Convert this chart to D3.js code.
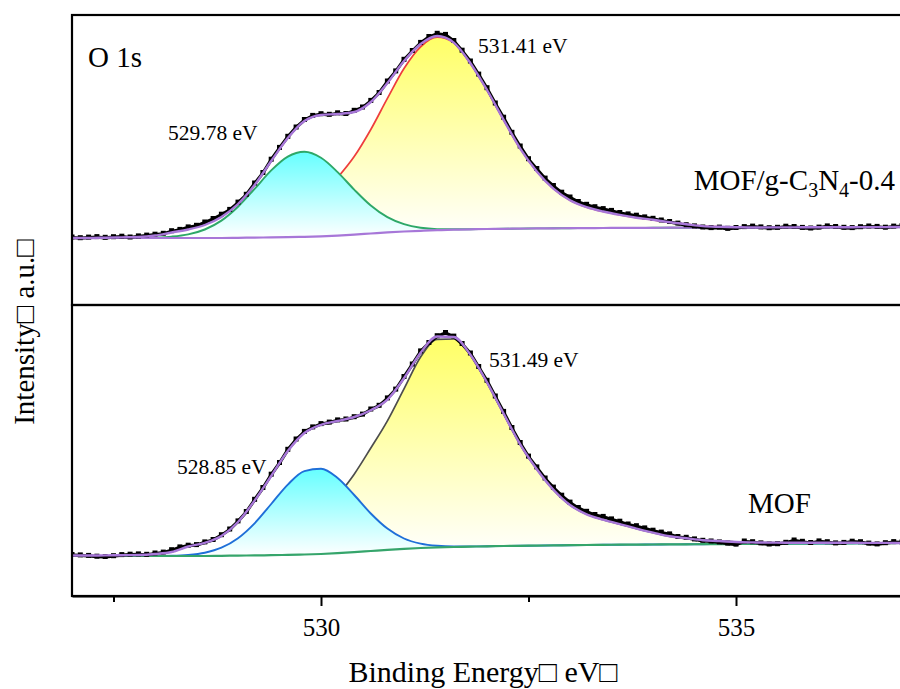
<!DOCTYPE html>
<html>
<head>
<meta charset="utf-8">
<script src="https://cdnjs.cloudflare.com/ajax/libs/d3/7.8.5/d3.min.js"></script>
<style>
  body { margin: 0; background: #fff; }
  svg { display: block; }
  text { font-family: "Liberation Serif", "Times New Roman", serif; fill: #000; }
</style>
</head>
<body>
<script>
// O 1s XPS spectra, two stacked panels (MOF/g-C3N4-0.4 on top, MOF below)

// energy grid of the fitted curves (eV)
var fitE = [527.0, 527.2, 527.4, 527.6, 527.8, 528.0, 528.2, 528.4, 528.6, 528.8,
            529.0, 529.2, 529.4, 529.6, 529.8, 530.0, 530.2, 530.4, 530.6, 530.8,
            531.0, 531.2, 531.4, 531.6, 531.8, 532.0, 532.2, 532.4, 532.6, 532.8,
            533.0, 533.2, 533.4, 533.6, 533.8, 534.0, 534.2, 534.4, 534.6, 534.8,
            535.0, 535.2, 535.4, 535.6, 535.8, 536.0, 536.2, 536.4, 536.6, 536.8, 537.0];

// energy grid of the measured points (eV)
var rawE = [527.0, 527.1, 527.2, 527.3, 527.4, 527.5, 527.6, 527.7, 527.8, 527.9,
            528.0, 528.1, 528.2, 528.3, 528.4, 528.5, 528.6, 528.7, 528.8, 528.9,
            529.0, 529.1, 529.2, 529.3, 529.4, 529.5, 529.6, 529.7, 529.8, 529.9,
            530.0, 530.1, 530.2, 530.3, 530.4, 530.5, 530.6, 530.7, 530.8, 530.9,
            531.0, 531.1, 531.2, 531.3, 531.4, 531.5, 531.6, 531.7, 531.8, 531.9,
            532.0, 532.1, 532.2, 532.3, 532.4, 532.5, 532.6, 532.7, 532.8, 532.9,
            533.0, 533.1, 533.2, 533.3, 533.4, 533.5, 533.6, 533.7, 533.8, 533.9,
            534.0, 534.1, 534.2, 534.3, 534.4, 534.5, 534.6, 534.7, 534.8, 534.9,
            535.0, 535.1, 535.2, 535.3, 535.4, 535.5, 535.6, 535.7, 535.8, 535.9,
            536.0, 536.1, 536.2, 536.3, 536.4, 536.5, 536.6, 536.7, 536.8, 536.9, 537.0];

// ---- top panel: MOF/g-C3N4-0.4 (intensity, a.u.) ----
var topBg = [67, 67, 67, 67, 67, 67, 67, 67, 67, 67,
             67.2, 67.4, 67.6, 67.8, 68.2, 68.7, 69.4, 70.4, 71.5, 72.6,
             73.5, 74.2, 74.8, 75.3, 75.7, 76.0, 76.2, 76.4, 76.6, 76.7,
             76.8, 76.9, 77.0, 77.1, 77.1, 77.2, 77.3, 77.3, 77.4, 77.4,
             77.5, 77.5, 77.6, 77.6, 77.7, 77.7, 77.8, 77.8, 77.9, 77.9, 78.0];
// peak heights above the background
var topPeak1 = [0, 0, 0, 0, 0.1, 0.5, 1.4, 3.6, 8.5, 17.4,
                31.1, 48.7, 67.0, 80.6, 85.0, 78.5, 63.5, 45.0, 28.0, 15.2,
                7.3, 3.0, 1.1, 0.4, 0.1, 0, 0, 0, 0, 0,
                0, 0, 0, 0, 0, 0, 0, 0, 0, 0,
                0, 0, 0, 0, 0, 0, 0, 0, 0, 0, 0];
var topPeak2 = [0, 0, 0, 0, 0, 0, 0.1, 0.2, 0.4, 1.0,
                2.2, 4.3, 8.0, 14, 24, 41, 58, 78, 104, 134,
                163, 184, 193, 187, 166, 139, 109, 80, 57, 39.7,
                28, 21, 16.5, 13, 10.2, 8, 5.5, 3.5, 1.5, 0.8,
                0.3, 0, 0, 0, 0, 0, 0, 0, 0, 0, 0];
var topEnv = [67, 67, 67.3, 67.6, 68, 69.5, 72.5, 75.5, 80, 88,
              101, 120, 144, 167, 184, 190, 191, 193, 203, 222,
              244, 261, 269, 262.4, 241.8, 215, 185.2, 156.4, 133.6, 116.4,
              104.8, 97.9, 93.5, 90.1, 87.3, 85.2, 82.8, 80.8, 78.9, 78.2,
              77.8, 77.5, 77.6, 77.6, 77.7, 77.7, 77.8, 77.8, 77.9, 77.9, 78.0];
var topRaw = [67.5, 66.8, 67.4, 67.9, 67.2, 67.8, 68.3, 67.5, 68.6, 69.4,
              70.3, 71.2, 73.8, 75.1, 77.6, 79.2, 82.5, 86.0, 90.3, 95.1,
              102.4, 110.2, 121.5, 132.0, 145.3, 157.1, 168.2, 177.5, 185.0, 189.1,
              190.8, 190.2, 191.7, 191.0, 194.2, 197.5, 204.1, 212.0, 223.5, 233.6,
              245.2, 254.0, 262.1, 268.0, 271.2, 270.1, 264.0, 254.3, 243.5, 230.4,
              216.8, 201.5, 187.3, 172.2, 158.5, 145.8, 136.0, 126.4, 119.0, 112.3,
              107.5, 103.0, 100.2, 97.8, 95.9, 94.1, 92.0, 90.6, 89.3, 87.6,
              86.2, 84.5, 83.0, 81.4, 79.8, 78.6, 77.5, 76.9, 77.4, 76.2,
              77.0, 77.9, 78.4, 77.6, 76.8, 77.2, 78.3, 78.0, 77.1, 76.5,
              77.4, 78.6, 78.0, 77.2, 76.9, 77.8, 78.5, 78.1, 77.3, 78.4, 78.8];

// ---- bottom panel: MOF ----
var botBg = [40, 40, 40, 40, 40, 40, 40, 40, 40, 40.2,
             40.4, 40.6, 40.8, 41.1, 41.5, 42, 42.8, 43.8, 45, 46.2,
             47.2, 48, 48.6, 49, 49.4, 49.7, 50, 50.2, 50.4, 50.6,
             50.8, 51, 51.2, 51.3, 51.4, 51.5, 51.6, 51.7, 51.8, 51.9,
             52.0, 52.1, 52.2, 52.3, 52.4, 52.5, 52.6, 52.7, 52.8, 52.9, 53.0];
var botPeak1 = [0, 0, 0, 0, 0, 0.1, 0.3, 1.1, 3.3, 8.1,
                17.4, 32.1, 51.2, 70.3, 83.4, 85.2, 75.2, 57.2, 37.5, 21.2,
                10.3, 4.4, 1.6, 0.5, 0.2, 0, 0, 0, 0, 0,
                0, 0, 0, 0, 0, 0, 0, 0, 0, 0,
                0, 0, 0, 0, 0, 0, 0, 0, 0, 0, 0];
var botPeak2 = [0, 0, 0, 0, 0, 0, 0, 0, 0.3, 0.7,
                1.6, 3.4, 6.7, 12.6, 22, 37, 57, 78, 103, 129,
                160, 191, 208, 208, 191.6, 163.9, 132.4, 101.4, 76.4, 55.6,
                40.2, 30.7, 25.1, 20.5, 16, 11.9, 8.1, 6, 4, 3.1,
                2, 1.5, 1.2, 1.0, 0.9, 0.7, 0.6, 0.5, 0.3, 0.2, 0];
var botEnv = [40.5, 40.5, 40.6, 40.8, 41, 42, 44, 49.5, 53.2, 60,
              74, 95.4, 120, 145, 163, 171.2, 175, 179, 185.8, 196.4,
              217.8, 243.3, 259.5, 259, 241.2, 213.6, 182.4, 151.6, 126.8, 106.2,
              91, 81.7, 76.3, 71.8, 67.4, 63.4, 59.7, 57.7, 55.8, 55,
              54, 53.6, 53.4, 53.3, 53.3, 53.2, 53.2, 53.2, 53.1, 53.1, 53.0];
var botRaw = [41.0, 40.6, 40.1, 39.3, 39.0, 39.8, 40.9, 41.3, 41.6, 41.2,
              42.5, 43.4, 45.8, 48.6, 50.3, 50.9, 53.6, 56.0, 60.8, 66.5,
              74.6, 84.0, 96.2, 108.0, 121.3, 133.0, 146.2, 156.5, 164.1, 168.6,
              171.9, 173.4, 175.6, 176.5, 178.8, 181.4, 186.5, 190.2, 197.6, 206.4,
              219.0, 231.5, 244.6, 253.0, 259.8, 263.0, 259.4, 252.0, 242.5, 229.0,
              215.2, 199.5, 184.1, 168.0, 153.0, 139.4, 128.6, 117.5, 108.4, 100.3,
              93.4, 88.0, 84.2, 81.0, 79.1, 76.6, 74.3, 71.5, 69.8, 67.6,
              65.3, 63.4, 61.6, 59.0, 58.2, 56.6, 55.2, 54.5, 53.6, 52.4,
              51.4, 54.5, 53.8, 52.6, 51.5, 51.8, 53.2, 55.5, 54.2, 53.0,
              54.6, 53.8, 52.6, 53.1, 54.3, 53.8, 52.4, 51.6, 52.8, 53.9, 53.5];

// tick values
var majorTicks = [530, 535];
var minorTicks = [527.5, 532.5];

var width = 900, height = 689;
var plotLeft = 72, plotRight = 902;

var svg = d3.select("body").append("svg")
    .attr("width", width)
    .attr("height", height);

var defs = svg.append("defs");

function vGrad(id, color) {
  var g = defs.append("linearGradient")
      .attr("id", id)
      .attr("x1", 0).attr("y1", 0)
      .attr("x2", 0).attr("y2", 1);
  g.append("stop").attr("offset", "0%").attr("stop-color", color);
  g.append("stop").attr("offset", "100%").attr("stop-color", "#ffffff");
}
vGrad("cyanFill", "#66ffff");
vGrad("yellowFill", "#ffff66");

var x = d3.scaleLinear().domain([527, 537]).range([plotLeft, plotRight]);

var panels = [
  {name: "top", top: 15, bottom: 305, bg: topBg, p1: topPeak1, p2: topPeak2, env: topEnv, raw: topRaw,
   c1: "#2ea868", c2: "#ee3d3d", cBg: "#a777d8"},
  {name: "bot", top: 305, bottom: 596, bg: botBg, p1: botPeak1, p2: botPeak2, env: botEnv, raw: botRaw,
   c1: "#1f6fd8", c2: "#4d4d4d", cBg: "#35a56b"}
];

var envColor = "#a777d8";

panels.forEach(function(p) {
  var y = d3.scaleLinear().domain([0, 290]).range([p.bottom, p.bottom - 290]);

  var rows = fitE.map(function(e, i) {
    return {e: e, bg: p.bg[i], p1: p.p1[i], p2: p.p2[i], env: p.env[i]};
  });
  var pts = rawE.map(function(e, i) { return {e: e, v: p.raw[i]}; });

  defs.append("clipPath").attr("id", "clip-" + p.name)
    .append("rect")
      .attr("x", plotLeft).attr("y", p.top)
      .attr("width", plotRight - plotLeft).attr("height", p.bottom - p.top);

  var g = svg.append("g").attr("clip-path", "url(#clip-" + p.name + ")");

  // peak 2 fill + line
  g.append("path").datum(rows)
    .attr("fill", "url(#yellowFill)")
    .attr("d", d3.area().curve(d3.curveMonotoneX)
      .x(function(d) { return x(d.e); })
      .y0(function(d) { return y(d.bg); })
      .y1(function(d) { return y(d.bg + d.p2); }));
  g.append("path").datum(rows)
    .attr("fill", "none").attr("stroke", p.c2).attr("stroke-width", 1.7)
    .attr("d", d3.line().curve(d3.curveMonotoneX)
      .x(function(d) { return x(d.e); })
      .y(function(d) { return y(d.bg + d.p2); }));

  // peak 1 fill + line
  g.append("path").datum(rows)
    .attr("fill", "url(#cyanFill)")
    .attr("d", d3.area().curve(d3.curveMonotoneX)
      .x(function(d) { return x(d.e); })
      .y0(function(d) { return y(d.bg); })
      .y1(function(d) { return y(d.bg + d.p1); }));
  g.append("path").datum(rows)
    .attr("fill", "none").attr("stroke", p.c1).attr("stroke-width", 1.9)
    .attr("d", d3.line().curve(d3.curveMonotoneX)
      .x(function(d) { return x(d.e); })
      .y(function(d) { return y(d.bg + d.p1); }));

  // background
  g.append("path").datum(rows)
    .attr("fill", "none").attr("stroke", p.cBg).attr("stroke-width", 2.2)
    .attr("d", d3.line().curve(d3.curveMonotoneX)
      .x(function(d) { return x(d.e); })
      .y(function(d) { return y(d.bg); }));

  // measured data
  g.append("path").datum(pts)
    .attr("fill", "none").attr("stroke", "#000").attr("stroke-width", 3.2)
    .attr("d", d3.line()
      .x(function(d) { return x(d.e); })
      .y(function(d) { return y(d.v); }));
  g.selectAll("rect.pt").data(pts).enter().append("rect")
    .attr("class", "pt")
    .attr("x", function(d) { return x(d.e) - 2.5; })
    .attr("y", function(d) { return y(d.v) - 3; })
    .attr("width", 5).attr("height", 5)
    .attr("fill", "#000");

  // fit envelope
  g.append("path").datum(rows)
    .attr("fill", "none").attr("stroke", envColor).attr("stroke-width", 2.4)
    .attr("d", d3.line().curve(d3.curveMonotoneX)
      .x(function(d) { return x(d.e); })
      .y(function(d) { return y(d.env); }));

  // frame
  svg.append("rect")
    .attr("x", plotLeft).attr("y", p.top)
    .attr("width", plotRight - plotLeft).attr("height", p.bottom - p.top)
    .attr("fill", "none").attr("stroke", "#000").attr("stroke-width", 2.2);
});

// x axis
var xAxis = svg.append("g")
    .attr("transform", "translate(0,596)")
    .call(d3.axisBottom(x).tickValues(majorTicks).tickSize(10).tickPadding(12).tickSizeOuter(0));
xAxis.select(".domain").attr("stroke-width", 2.2);
xAxis.selectAll(".tick line").attr("stroke-width", 2);
xAxis.selectAll(".tick text").style("font-size", "25px");

var xMinor = svg.append("g")
    .attr("transform", "translate(0,596)")
    .call(d3.axisBottom(x).tickValues(minorTicks).tickSize(6).tickFormat("").tickSizeOuter(0));
xMinor.select(".domain").remove();
xMinor.selectAll(".tick line").attr("stroke-width", 2);

// axis titles
svg.append("text")
    .attr("x", 483).attr("y", 682)
    .attr("text-anchor", "middle")
    .style("font-size", "30px")
    .text("Binding Energy□ eV□");

svg.append("text")
    .attr("transform", "translate(34,332) rotate(-90)")
    .attr("text-anchor", "middle")
    .style("font-size", "29px")
    .text("Intensity□ a.u.□");

// annotations
function label(txt, xx, yy, size) {
  return svg.append("text").attr("x", xx).attr("y", yy)
    .style("font-size", size + "px").text(txt);
}
label("O 1s", 88, 67, 29);
label("529.78 eV", 168, 140, 21.5);
label("531.41 eV", 478, 53, 21.5);
label("531.49 eV", 489, 367, 21.5);
label("528.85 eV", 177, 474, 21.5);
label("MOF", 748, 513, 29);

var sample = svg.append("text")
    .attr("x", 895).attr("y", 190)
    .attr("text-anchor", "end")
    .style("font-size", "29px");
sample.append("tspan").text("MOF/g-C");
sample.append("tspan").attr("dy", 7).style("font-size", "20px").text("3");
sample.append("tspan").attr("dy", -7).text("N");
sample.append("tspan").attr("dy", 7).style("font-size", "20px").text("4");
sample.append("tspan").attr("dy", -7).text("-0.4");
</script>
</body>
</html>
